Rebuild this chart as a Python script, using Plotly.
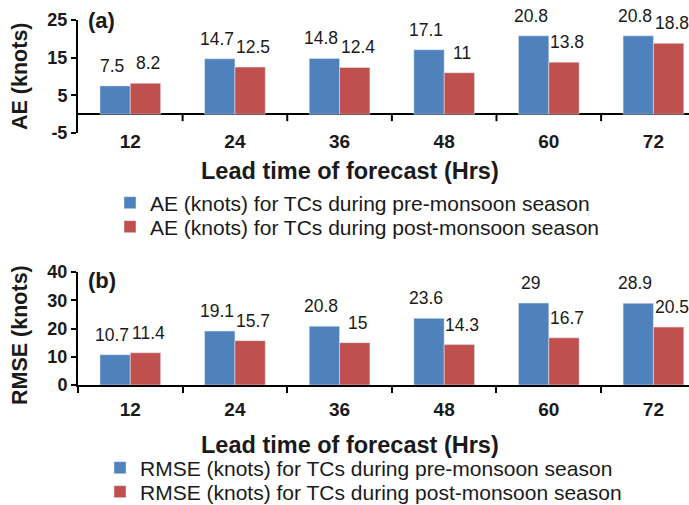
import plotly.graph_objects as go

# Forecast lead times (hours)
lead_times = ["12", "24", "36", "48", "60", "72"]

# Panel (a): absolute error (knots)
ae_pre = [7.5, 14.7, 14.8, 17.1, 20.8, 20.8]
ae_post = [8.2, 12.5, 12.4, 11, 13.8, 18.8]

# Panel (b): root mean square error (knots)
rmse_pre = [10.7, 19.1, 20.8, 23.6, 29, 28.9]
rmse_post = [11.4, 15.7, 15, 14.3, 16.7, 20.5]

# y-axis ticks of each panel
ae_ticks = [-5, 5, 15, 25]
rmse_ticks = [0, 10, 20, 30, 40]

BLUE = "#4F81BD"
RED = "#C0504D"
INK = "#1a1a1a"
FONT = "Liberation Sans, Arial, sans-serif"

W, H = 689, 505
ML = 78
PW = W - ML  # plot width in px


def px_x(p):
    return (p - ML) / PW


def px_y(p):
    return 1 - p / H


BARGAP = 0.42
half = (1 - BARGAP) / 4  # centre offset of each bar inside its group
xrange = [-0.5, 5.34]

dom_a = [px_y(133), px_y(20)]
dom_b = [px_y(385), px_y(272)]

fig = go.Figure()

series = [
    ("AE (knots) for TCs during pre-monsoon season", ae_pre, BLUE, "x", "y", "legend", 203),
    ("AE (knots) for TCs during post-monsoon season", ae_post, RED, "x", "y", "legend2", 227),
    ("RMSE (knots) for TCs during pre-monsoon season", rmse_pre, BLUE, "x2", "y2", "legend3", 468),
    ("RMSE (knots) for TCs during post-monsoon season", rmse_post, RED, "x2", "y2", "legend4", 492),
]
legends = {}
for name, vals, col, xa, ya, leg, ly in series:
    fig.add_trace(go.Bar(x=lead_times, y=vals, marker_color=col, name=name,
                         xaxis=xa, yaxis=ya, legend=leg, showlegend=True))
    legends[leg] = (ly, 110 if xa == "x" else 100)

annotations = []
# value labels above each bar
for xref, yref, pre, post in (("x", "y", ae_pre, ae_post),
                              ("x2", "y2", rmse_pre, rmse_post)):
    for i, (a, b) in enumerate(zip(pre, post)):
        for off, shift, v in ((-half, -3, a), (half, 3, b)):
            annotations.append(dict(
                x=i + off, y=v, xref=xref, yref=yref, text=f"{v:g}",
                showarrow=False, yanchor="bottom", yshift=8, xshift=shift,
                font=dict(family=FONT, size=17.5, color=INK)))

# panel letters
for txt, yp in (("(a)", 20), ("(b)", 280)):
    annotations.append(dict(x=px_x(86), y=px_y(yp), xref="paper", yref="paper",
                            text=f"<b>{txt}</b>", showarrow=False,
                            xanchor="left", yanchor="middle",
                            font=dict(family=FONT, size=22, color=INK)))

# axis titles
for txt, yp in (("AE (knots)", 76), ("RMSE (knots)", 335)):
    annotations.append(dict(x=px_x(20), y=px_y(yp), xref="paper", yref="paper",
                            text=f"<b>{txt}</b>", showarrow=False, textangle=-90,
                            xanchor="center", yanchor="middle",
                            font=dict(family=FONT, size=21.5, color=INK)))
for yp in (171, 445):
    annotations.append(dict(x=px_x(350), y=px_y(yp), xref="paper", yref="paper",
                            text="<b>Lead time of forecast (Hrs)</b>",
                            showarrow=False, xanchor="center", yanchor="middle",
                            font=dict(family=FONT, size=23.5, color=INK)))

# category-boundary tick marks hanging below the zero line of panel (a)
boundaries = [i + 0.5 for i in range(len(lead_times) - 1)]
shapes = [dict(type="line", xref="x", yref="y", x0=b, x1=b,
               ysizemode="pixel", yanchor=0, y0=0, y1=-7,
               line=dict(color="black", width=2)) for b in boundaries]

tickfont_x = dict(family=FONT, size=19, color=INK, weight="bold")
tickfont_y = dict(family=FONT, size=18, color=INK, weight="bold")

yaxis_style = dict(showline=True, linecolor="black", linewidth=2,
                   ticks="outside", ticklen=5, tickwidth=2, tickcolor="black",
                   showgrid=False, tickfont=tickfont_y)

layout_legends = {}
for leg, (ly, lx) in legends.items():
    layout_legends[leg] = dict(x=px_x(lx), y=px_y(ly), xanchor="left",
                               yanchor="middle",
                               font=dict(family=FONT, size=21, color=INK),
                               bgcolor="rgba(0,0,0,0)")

fig.update_layout(
    width=W, height=H,
    margin=dict(l=ML, r=0, t=0, b=0, autoexpand=False),
    paper_bgcolor="white", plot_bgcolor="white",
    showlegend=True,
    barmode="group", bargap=BARGAP, bargroupgap=0,
    font=dict(family=FONT, color=INK),
    annotations=annotations,
    shapes=shapes,
    xaxis=dict(domain=[0, 1], anchor="y", type="category", range=xrange,
               showline=False, ticks="", showgrid=False, zeroline=False,
               tickfont=tickfont_x, ticklabelstandoff=-5),
    yaxis=dict(domain=dom_a, anchor="x", range=[-5, 25], tickvals=ae_ticks,
               ticktext=[str(t) for t in ae_ticks], zeroline=True,
               zerolinecolor="black", zerolinewidth=2, **yaxis_style),
    xaxis2=dict(domain=[0, 1], anchor="y2", type="category", range=xrange,
                showline=True, linecolor="black", linewidth=2,
                ticks="outside", tickson="boundaries", ticklen=6, tickwidth=2,
                tickcolor="black", showgrid=False, zeroline=False,
                tickfont=tickfont_x, ticklabelstandoff=6),
    yaxis2=dict(domain=dom_b, anchor="x2", range=[0, 40], tickvals=rmse_ticks,
                ticktext=[str(t) for t in rmse_ticks], zeroline=False,
                **yaxis_style),
    **layout_legends,
)

fig.write_html("out.html")
